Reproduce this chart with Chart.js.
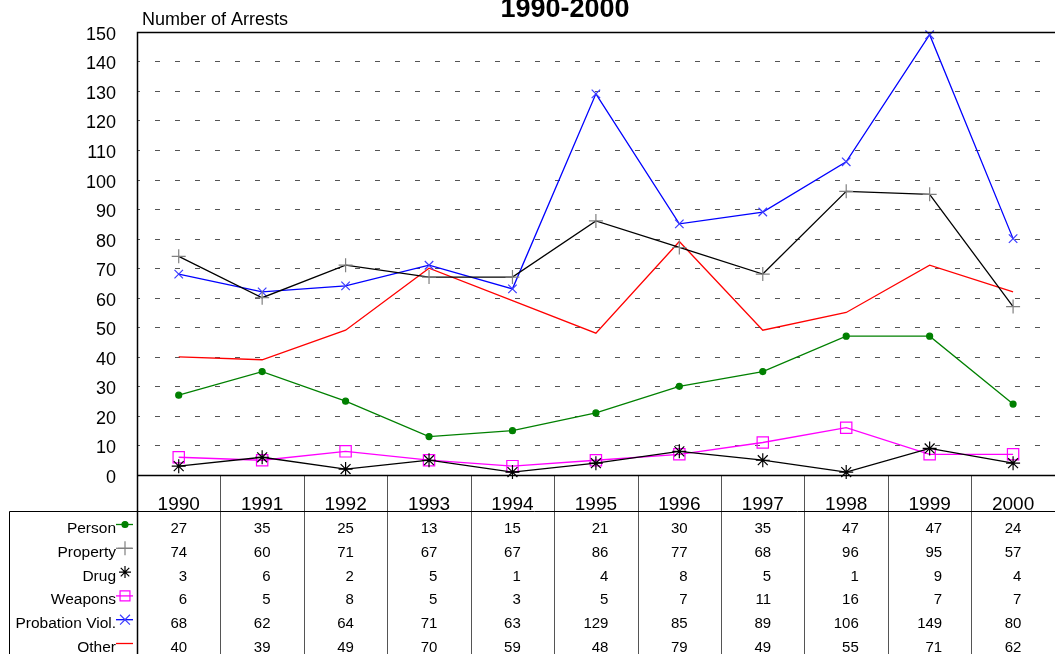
<!DOCTYPE html>
<html>
<head>
<meta charset="utf-8">
<script src="https://cdn.jsdelivr.net/npm/chart.js@4.4.1/dist/chart.umd.min.js"></script>
<style>
  html, body { margin: 0; padding: 0; background: #fff; overflow: hidden; }
  #wrap { width: 1055px; height: 654px; overflow: hidden; position: relative; }
  canvas { display: block; }
</style>
</head>
<body>
<div id="wrap"><canvas id="c" width="1064" height="654"></canvas></div>
<script>
const years = ["1990", "1991", "1992", "1993", "1994", "1995", "1996", "1997", "1998", "1999", "2000"];
const person    = [27, 35, 25, 13, 15, 21, 30, 35, 47, 47, 24];
const property  = [74, 60, 71, 67, 67, 86, 77, 68, 96, 95, 57];
const drug      = [3, 6, 2, 5, 1, 4, 8, 5, 1, 9, 4];
const weapons   = [6, 5, 8, 5, 3, 5, 7, 11, 16, 7, 7];
const probation = [68, 62, 64, 71, 63, 129, 85, 89, 106, 149, 80];
const other     = [40, 39, 49, 70, 59, 48, 79, 49, 55, 71, 62];
const seriesNames = ["Person", "Property", "Drug", "Weapons", "Probation Viol.", "Other"];
const yTicks = [0, 10, 20, 30, 40, 50, 60, 70, 80, 90, 100, 110, 120, 130, 140, 150];

const FONT = '"Liberation Sans", Arial, sans-serif';

// styles per series (same order as seriesNames)
const styles = [
  { line: "#008000", mark: "#008000", fill: "#008000", shape: "circle", r: 3, legendR: 3, legendLine: true },
  { line: "#000000", mark: "#808080", fill: "transparent", shape: "cross", r: 7, legendR: 7, legendLine: true, legendLineColor: "#808080" },
  { line: "#000000", mark: "#000000", fill: "transparent", shape: "star", r: 7, legendR: 6, legendLine: false },
  { line: "#ff00ff", mark: "#ff00ff", fill: "transparent", shape: "rect", r: 8, legendR: 7, legendLine: true },
  { line: "#0000ff", mark: "#3b3bff", fill: "transparent", shape: "crossRot", r: 6, legendR: 7, legendLine: true },
  { line: "#ff0000", mark: "#ff0000", fill: "#ff0000", shape: false, r: 0, legendR: 0, legendLine: true }
];
const allSeries = [person, property, drug, weapons, probation, other];

const datasets = allSeries.map((d, i) => ({
  label: seriesNames[i],
  data: d,
  borderColor: styles[i].line,
  borderWidth: 1.3,
  pointStyle: styles[i].shape,
  pointRadius: styles[i].r,
  pointBorderColor: styles[i].mark,
  pointBackgroundColor: styles[i].fill,
  pointBorderWidth: 1.2,
  tension: 0,
  fill: false,
  clip: false
}));

function glyph(ctx, st, x, y) {
  if (!st.shape || !Chart.helpers || !Chart.helpers.drawPoint) return;
  ctx.strokeStyle = st.mark;
  ctx.fillStyle = st.fill;
  ctx.lineWidth = 1.2;
  Chart.helpers.drawPoint(ctx, { pointStyle: st.shape, radius: st.legendR, rotation: 0, borderWidth: 1.2 }, x, y);
}

const framePlugin = {
  id: "frame",
  beforeDatasetsDraw(chart) {
    const { ctx, chartArea: a, scales: { y } } = chart;
    ctx.save();
    ctx.strokeStyle = "#555";
    ctx.lineWidth = 1;
    ctx.setLineDash([5, 15]);
    ctx.lineDashOffset = 2;
    yTicks.slice(1, -1).forEach(v => {
      const py = Math.round(y.getPixelForValue(v)) + 0.5;
      ctx.beginPath();
      ctx.moveTo(a.left, py);
      ctx.lineTo(a.right, py);
      ctx.stroke();
    });
    ctx.restore();
  },
  afterDraw(chart) {
    const { ctx, chartArea: a, scales: { x } } = chart;
    const H = chart.height;
    const headerLine = 511.5;
    ctx.save();

    // column separators (under the plot, through the table)
    ctx.strokeStyle = "#555";
    ctx.lineWidth = 1;
    for (let i = 0; i < years.length - 1; i++) {
      const px = Math.round((x.getPixelForValue(i) + x.getPixelForValue(i + 1)) / 2) + 0.5;
      ctx.beginPath();
      ctx.moveTo(px, a.bottom);
      ctx.lineTo(px, H);
      ctx.stroke();
    }

    // plot frame: top, left, bottom
    ctx.strokeStyle = "#000";
    ctx.lineWidth = 1.5;
    ctx.beginPath();
    ctx.moveTo(a.right + 5, Math.round(a.top) + 0.5);
    ctx.lineTo(Math.round(a.left) + 0.5, Math.round(a.top) + 0.5);
    ctx.lineTo(Math.round(a.left) + 0.5, H);
    ctx.moveTo(Math.round(a.left) + 0.5, Math.round(a.bottom) + 0.5);
    ctx.lineTo(a.right + 5, Math.round(a.bottom) + 0.5);
    ctx.stroke();

    // table frame
    ctx.lineWidth = 1;
    ctx.beginPath();
    ctx.moveTo(9.5, H);
    ctx.lineTo(9.5, headerLine);
    ctx.lineTo(a.right + 5, headerLine);
    ctx.stroke();

    // year headers
    ctx.fillStyle = "#000";
    ctx.font = "19px " + FONT;
    ctx.textAlign = "center";
    ctx.textBaseline = "alphabetic";
    years.forEach((yr, i) => ctx.fillText(yr, x.getPixelForValue(i), 510));

    // rows
    ctx.font = "15px " + FONT;
    const colRight = years.map((_, i) => {
      const w = Math.max(...allSeries.map(s => ctx.measureText(String(s[i])).width));
      return x.getPixelForValue(i) + w / 2;
    });
    seriesNames.forEach((name, r) => {
      const base = 533 + r * 23.8;
      ctx.fillStyle = "#000";
      ctx.textAlign = "right";
      ctx.font = "15.5px " + FONT;
      ctx.fillText(name, 116, base);
      ctx.font = "15px " + FONT;
      allSeries[r].forEach((v, i) => ctx.fillText(String(v), colRight[i], base));
      const st = styles[r];
      const gy = base - 8.5;
      if (st.legendLine) {
        ctx.strokeStyle = st.legendLineColor || st.line;
        ctx.lineWidth = 1.3;
        ctx.beginPath();
        ctx.moveTo(116, gy);
        ctx.lineTo(133, gy);
        ctx.stroke();
      }
      glyph(ctx, st, 125, gy);
    });

    // titles
    ctx.fillStyle = "#000";
    ctx.textAlign = "left";
    ctx.font = "18px " + FONT;
    ctx.fillText("Number of Arrests", 142, 25);
    ctx.textAlign = "center";
    ctx.font = "bold 27px " + FONT;
    ctx.fillText("1990-2000", 565, 17);
    ctx.restore();
  }
};

new Chart(document.getElementById("c"), {
  type: "line",
  data: { labels: years, datasets: datasets },
  options: {
    responsive: false,
    animation: false,
    layout: { padding: { left: 0, top: 29, right: 1, bottom: 179 } },
    plugins: { legend: { display: false }, tooltip: { enabled: false }, title: { display: false } },
    scales: {
      x: { type: "category", offset: true, display: false },
      y: {
        min: 0, max: 150,
        afterFit(scale) { scale.width = 137; },
        afterBuildTicks(scale) { scale.ticks = yTicks.map(v => ({ value: v })); },
        ticks: { stepSize: 10, color: "#000", font: { family: FONT, size: 18 }, padding: 21, labelOffset: 3 },
        grid: { display: false, drawTicks: false },
        border: { display: false }
      }
    }
  },
  plugins: [framePlugin]
});
</script>
</body>
</html>
